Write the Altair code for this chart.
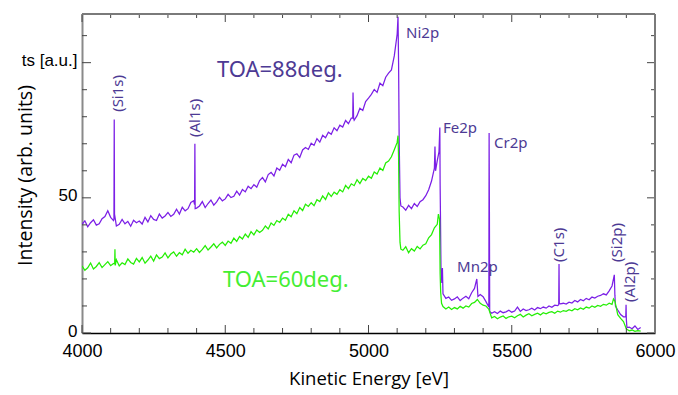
import altair as alt
import pandas as pd

# ---------------- data ----------------
grid_start = 4000
grid_step = 10

purple_grid = [
    40.2, 41.5, 39.3, 40.8, 41.9, 39.9, 40.4, 42.3, 43.1, 45.2,   # 4000
    42.8, 41.6, 39.6, 40.2, 42.0, 40.4, 41.3, 39.5, 41.7, 40.8,   # 4100
    41.4, 40.3, 42.8, 41.1, 43.4, 42.0, 41.6, 44.0, 42.5, 43.3,   # 4200
    44.6, 43.1, 43.9, 45.8, 44.0, 46.5, 45.2, 46.0, 48.3, 48.9,   # 4300
    46.2, 47.0, 48.6, 46.4, 47.9, 49.2, 47.3, 48.5, 50.2, 48.9,   # 4400
    49.6, 51.3, 50.1, 50.6, 52.5, 51.0, 53.1, 52.2, 54.3, 53.4,   # 4500
    54.9, 53.9, 56.4, 57.5, 55.9, 58.6, 59.4, 58.1, 61.0, 60.2,   # 4600
    62.4, 61.5, 64.2, 63.0, 65.8, 66.3, 64.9, 67.7, 68.6, 67.9,   # 4700
    70.2, 69.4, 71.9, 70.6, 73.1, 72.2, 74.3, 73.5, 75.9, 74.8,   # 4800
    76.9, 76.2, 78.6, 77.4, 79.5, 78.7, 80.4, 83.1, 82.3, 85.6,   # 4900
    86.9, 88.3, 90.1, 89.0, 92.4, 91.5, 94.6, 96.1, 97.3, 102.5,  # 5000
    110.5, 50.0, 46.6, 45.4, 47.2, 46.0, 47.9, 46.8, 48.6, 49.3,  # 5100
    50.8, 53.0, 56.2, 61.0, 63.8, 55.0, 14.5, 12.8, 13.3, 12.1,   # 5200
    12.6, 13.4, 12.0, 12.9, 13.6, 12.7, 14.9, 16.5, 17.0, 14.2,   # 5300
    13.4, 11.6, 9.6, 7.3, 7.9, 7.2, 8.1, 7.5, 7.8, 8.4,           # 5400
    7.7, 8.1, 9.6, 8.0, 8.9, 8.3, 8.6, 9.2, 8.5, 9.4,             # 5500
    9.0, 9.6, 9.2, 10.0, 9.5, 10.3, 10.1, 10.8, 11.0, 10.7,       # 5600
    11.4, 11.1, 12.0, 11.5, 12.4, 11.9, 12.8, 12.3, 13.3, 12.9,   # 5700
    13.6, 13.9, 14.5, 14.1, 15.6, 17.4, 14.0, 8.5, 6.8, 6.0,      # 5800
    5.0, 2.2, 1.6, 2.6, 1.3, 2.0,                                 # 5900
]
purple_peak_e = [4111.5, 4112.5, 4113.5, 4393, 4394, 4395, 4945, 4946, 4948,
                 5103, 5105, 5107, 5113, 5232, 5234, 5246, 5249, 5251, 5253,
                 5256, 5258, 5378, 5382, 5421, 5422, 5423, 5664, 5665, 5666,
                 5858, 5862, 5898, 5899, 5902]
purple_peak_v = [42.0, 79.0, 44.0, 47.5, 70.0, 46.0, 79.5, 89.0, 79.5,
                 117.0, 100.0, 72.0, 47.0, 69.0, 60.0, 67.0, 76.0, 45.0, 24.0,
                 18.5, 24.0, 20.0, 13.5, 74.0, 45.0, 8.0, 10.5, 25.5, 11.0,
                 21.5, 10.0, 6.0, 10.4, 2.0]

green_grid = [
    24.8, 23.2, 24.1, 25.9, 23.7, 24.6, 26.0, 24.2, 25.3, 26.4,   # 4000
    24.9, 25.7, 27.1, 24.8, 26.0, 25.3, 27.4, 26.1, 25.5, 27.6,   # 4100
    26.3, 27.9, 25.8, 27.0, 28.4, 26.6, 28.9, 27.5, 28.1, 29.6,   # 4200
    27.8, 29.2, 30.0, 28.4, 29.7, 28.9, 31.0, 29.5, 30.6, 29.9,   # 4300
    31.2, 29.8, 30.9, 32.3, 30.7, 31.8, 33.0, 31.5, 32.8, 33.6,   # 4400
    32.4, 34.0, 33.2, 35.1, 33.9, 35.7, 34.8, 36.6, 35.4, 37.5,   # 4500
    36.3, 38.1, 37.2, 38.0, 39.6, 38.5, 40.7, 39.8, 41.6, 40.9,   # 4600
    42.5, 41.7, 43.9, 43.0, 45.2, 44.1, 46.4, 45.3, 47.6, 46.8,   # 4700
    48.2, 47.1, 49.3, 48.6, 50.7, 49.4, 51.8, 50.5, 52.1, 51.3,   # 4800
    53.0, 52.2, 54.6, 53.4, 55.2, 54.5, 56.7, 55.3, 57.2, 56.4,   # 4900
    58.0, 57.2, 59.6, 58.8, 61.0, 60.1, 62.9, 63.6, 65.2, 67.8,   # 5000
    70.5, 33.5, 30.6, 31.9, 29.7, 31.2, 30.3, 32.0, 31.1, 32.5,   # 5100
    33.0, 35.2, 36.4, 38.9, 40.2, 22.0, 9.8, 8.9, 9.6, 8.7,       # 5200
    9.4, 8.9, 9.9, 9.2, 10.0, 9.6, 10.9, 11.3, 12.4, 11.0,        # 5300
    10.3, 10.0, 8.8, 5.6, 6.1, 5.3, 5.9, 6.3, 5.4, 6.0,           # 5400
    6.2, 5.6, 6.4, 6.9, 5.9, 6.6, 7.1, 6.4, 6.9, 7.3,             # 5500
    6.7, 7.5, 7.1, 7.6, 7.9, 7.3, 8.1, 7.7, 8.3, 8.0,             # 5600
    8.6, 8.2, 9.0, 8.6, 9.3, 8.8, 9.6, 9.2, 10.0, 9.5,            # 5700
    10.2, 9.9, 10.6, 10.3, 11.0, 10.6, 11.8, 6.8, 5.4, 4.2,       # 5800
    1.5, 0.8, 1.1, 0.6, 0.9, 0.7,                                 # 5900
]
green_peak_e = [4114, 4115, 4116, 5103, 5105, 5107, 5113, 5244, 5248, 5252, 5255, 5855]
green_peak_v = [25.5, 31.0, 25.0, 73.0, 65.0, 45.0, 31.0, 44.0, 42.0, 15.0, 11.0, 12.6]

# peak labels
hlabel_text = ["Ni2p", "Fe2p", "Cr2p", "Mn2p"]
hlabel_e = [5131, 5260, 5438, 5309]
hlabel_v = [111.0, 75.8, 70.3, 24.4]

vlabel_text = ["(Si1s)", "(Al1s)", "(C1s)", "(Si2p)", "(Al2p)"]
vlabel_e = [4126, 4394, 5665, 5867, 5913]
vlabel_v = [81.8, 72.5, 26.3, 26.3, 11.5]

toa88_text, toa88_e, toa88_v = ["TOA=88deg."], [4471], [97.3]
toa60_text, toa60_e, toa60_v = ["TOA=60deg."], [4492], [19.6]

x_major = [4000, 4500, 5000, 5500, 6000]
x_minor = [4100, 4200, 4300, 4400, 4600, 4700, 4800, 4900, 5100, 5200, 5300,
           5400, 5600, 5700, 5800, 5900]
y_major = [0, 50, 100]
y_minor = [10, 20, 30, 40, 60, 70, 80, 90, 110]

# ---------------- build tables ----------------
def build(grid, pe, pv, name):
    rows = [(grid_start + grid_step * i, v) for i, v in enumerate(grid)]
    rows += list(zip(pe, pv))
    rows.sort(key=lambda r: r[0])
    return pd.DataFrame({"energy": [r[0] for r in rows],
                         "intensity": [r[1] for r in rows],
                         "series": name})

df = pd.concat([build(purple_grid, purple_peak_e, purple_peak_v, "88"),
                build(green_grid, green_peak_e, green_peak_v, "60")])

W, H = 573, 319
PURPLE = "#7B1FE6"
GREEN = "#25EE05"
LABEL = "#4D3A94"
AXFONT = "Liberation Sans"
TITLEFONT = "Open Sans"
TXFONT = "Noto Sans"

xs = alt.Scale(domain=[4000, 6000], nice=False, zero=False)
ys = alt.Scale(domain=[0, 118], nice=False, zero=False)

lines = alt.Chart(df).mark_line(strokeWidth=1.25, clip=True).encode(
    x=alt.X("energy:Q", scale=xs,
            axis=alt.Axis(values=x_major, format="d", ticks=False,
                          labelFontSize=18, labelFont=AXFONT, labelColor="black",
                          labelPadding=9, labelFlush=False,
                          domainColor="black", domainWidth=1.5,
                          grid=False, title="Kinetic Energy [eV]",
                          titleFont=TITLEFONT, titleFontSize=18.5,
                          titleFontWeight="normal", titleColor="black",
                          titlePadding=9)),
    y=alt.Y("intensity:Q", scale=ys,
            axis=alt.Axis(values=y_major, ticks=False,
                          labelExpr="datum.value == 100 ? 'ts [a.u.]' : datum.label",
                          labelFontSize=17, labelFont=AXFONT, labelColor="black",
                          labelPadding=5, labelFlush=False, labelOffset=-2,
                          domainColor="#8a8a8a", domainWidth=2,
                          grid=False, title="Intensity (arb. units)",
                          titleFont=TITLEFONT, titleFontSize=19.5,
                          titleFontWeight="normal", titleColor="black",
                          titleX=-57, titleY=161, titleBaseline="middle")),
    color=alt.Color("series:N", scale=alt.Scale(domain=["88", "60"], range=[PURPLE, GREEN]),
                    legend=None),
    order=alt.Order("energy:Q"),
)

def text_layer(es, vs, ts, color, size, angle=0):
    props = dict(align="left", baseline="middle", font=TXFONT, fontSize=size, color=color)
    if angle:
        props["angle"] = angle
    return alt.Chart(pd.DataFrame({"e": es, "v": vs, "t": ts})).mark_text(**props).encode(
        x=alt.X("e:Q", scale=xs), y=alt.Y("v:Q", scale=ys), text="t:N")

hl = text_layer(hlabel_e, hlabel_v, hlabel_text, LABEL, 15)
vl = text_layer(vlabel_e, vlabel_v, vlabel_text, LABEL, 15, angle=270)
t88 = text_layer(toa88_e, toa88_v, toa88_text, LABEL, 22)
t60 = text_layer(toa60_e, toa60_v, toa60_text, "#44EE33", 22)

TICKC = "#444444"
xmaj = pd.DataFrame({"v": x_major})
xmin = pd.DataFrame({"v": x_minor})
ymaj = pd.DataFrame({"v": y_major})
ymin = pd.DataFrame({"v": y_minor})

def xticks(d, y0, y1):
    return alt.Chart(d).mark_rule(color=TICKC, strokeWidth=1).encode(
        x=alt.X("v:Q", scale=xs), y=alt.value(y0), y2=alt.value(y1))

def yticks(d, x0, x1):
    return alt.Chart(d).mark_rule(color=TICKC, strokeWidth=1).encode(
        y=alt.Y("v:Q", scale=ys), x=alt.value(x0), x2=alt.value(x1))

ticks = [
    xticks(xmaj, H, H - 8), xticks(xmin, H, H - 5),
    xticks(xmaj, 0, 8), xticks(xmin, 0, 4),
    yticks(ymaj, 0, 9), yticks(ymin, 0, 5),
    yticks(ymaj, W, W - 8), yticks(ymin, W, W - 4),
]

top_border = alt.Chart(pd.DataFrame({"a": [0]})).mark_rule(color="#7a7a7a", strokeWidth=2).encode(
    x=alt.value(0), x2=alt.value(W), y=alt.value(0))
right_border = alt.Chart(pd.DataFrame({"a": [0]})).mark_rule(color="#7a7a7a", strokeWidth=2).encode(
    x=alt.value(W), y=alt.value(0), y2=alt.value(H))

chart = alt.layer(lines, hl, vl, t88, t60, *ticks, top_border, right_border).properties(
    width=W, height=H,
    autosize=alt.AutoSizeParams(type="none"),
    padding={"left": 82, "top": 14, "right": 23, "bottom": 62},
    background="white",
).configure_view(strokeWidth=0)

chart.save("out.html", embed_options={"renderer": "svg", "actions": False})
